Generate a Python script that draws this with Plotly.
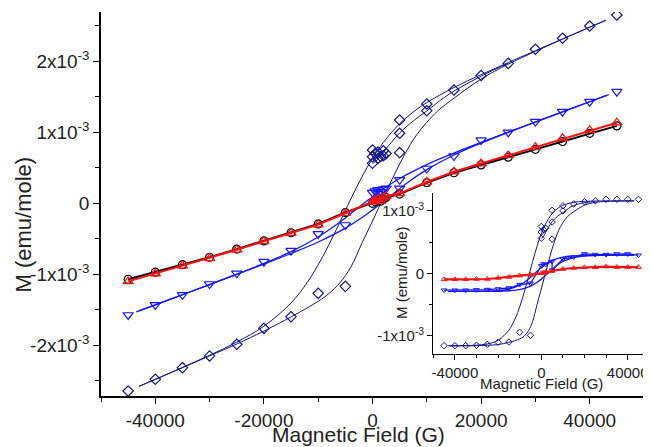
import plotly.graph_objects as go

SC = 1e-3  # values below are in units of 1e-3 emu/mole

# ---------------- main panel: measured points ----------------
blk_h = [-45000, -40000, -35000, -30000, -25000, -20000, -15000, -10000, -5000, 0, 500, 1000, 1500, 2000, 2500, 5000, 10000, 15000, 20000, 25000, 30000, 35000, 40000, 45000]
blk_m = [-1.07, -0.97, -0.865, -0.76, -0.645, -0.53, -0.415, -0.29, -0.13, 0.0, 0.02, 0.04, 0.03, 0.06, 0.08, 0.13, 0.29, 0.43, 0.54, 0.65, 0.76, 0.87, 0.985, 1.09]

red_h = [-45000, -40000, -35000, -30000, -25000, -20000, -15000, -10000, -5000, 0, 500, 1000, 1500, 2000, 2500, 5000, 10000, 15000, 20000, 25000, 30000, 35000, 40000, 45000]
red_m = [-1.10, -0.99, -0.88, -0.775, -0.655, -0.535, -0.42, -0.30, -0.14, 0.02, 0.04, 0.06, 0.03, 0.08, 0.10, 0.14, 0.30, 0.445, 0.56, 0.675, 0.79, 0.915, 1.03, 1.135]

blu_h = [-45000, -40000, -35000, -30000, -25000, -20000, -15000, -10000, -5000, 0, 500, 1000, 1000, 1500, 2000, 2500, 5000, 5000, 10000, 15000, 20000, 25000, 30000, 35000, 40000, 45000]
blu_m = [-1.573, -1.432, -1.29, -1.137, -0.986, -0.822, -0.667, -0.432, -0.306, 0.15, 0.17, 0.19, 0.14, 0.16, 0.20, 0.21, 0.33, 0.21, 0.49, 0.666, 0.89, 1.00, 1.15, 1.29, 1.431, 1.572]

nav_h = [-45000, -40000, -35000, -30000, -25000, -20000, -15000, -10000, -5000, 0, 0, 0, 500, 1000, 1000, 1500, 2000, 2000, 2500, 5000, 5000, 5000, 10000, 10000, 15000, 20000, 25000, 30000, 35000, 40000, 45000]
nav_m = [-2.644, -2.479, -2.315, -2.15, -1.986, -1.761, -1.597, -1.268, -1.17, 0.75, 0.656, 0.563, 0.70, 0.72, 0.63, 0.66, 0.74, 0.67, 0.70, 1.173, 0.986, 0.713, 1.398, 1.304, 1.595, 1.80, 1.97, 2.17, 2.324, 2.497, 2.652]

# ---------------- main panel: fitted curves ----------------
fit_h = [-43000, -40000, -35000, -30000, -25000, -20000, -15000, -12000, -10000, -8000, -6000, -4000, -2000, 0, 2000, 5000, 8000, 10000, 15000, 20000, 25000, 30000, 35000, 40000, 43000]
nav_dn = [-2.578, -2.479, -2.312, -2.14, -1.955, -1.731, -1.404, -1.113, -0.866, -0.579, -0.263, 0.06, 0.364, 0.632, 0.857, 1.121, 1.314, 1.418, 1.631, 1.812, 1.982, 2.149, 2.315, 2.48, 2.579]
fit_h2 = [-43000, -40000, -35000, -30000, -25000, -20000, -15000, -10000, -8000, -6000, -4000, -2000, 0, 2000, 4000, 6000, 8000, 10000, 12000, 15000, 20000, 25000, 30000, 35000, 40000, 43000]
nav_up = [-2.579, -2.48, -2.315, -2.149, -1.982, -1.80, -1.60, -1.38, -1.27, -1.12, -0.90, -0.57, -0.25, 0.08, 0.40, 0.70, 0.95, 1.14, 1.30, 1.48, 1.75, 1.96, 2.14, 2.312, 2.479, 2.578]
vir_h = [0, 1000, 2000, 3500, 5000, 7500, 10000, 12500, 15000, 20000, 25000]
nav_vir = [0.56, 0.62, 0.72, 0.86, 0.99, 1.16, 1.30, 1.45, 1.58, 1.79, 1.975]

bfit_h = [-43000, -40000, -35000, -30000, -25000, -20000, -15000, -10000, -7000, -5000, -3000, -1000, 0, 2000, 5000, 10000, 15000, 20000, 25000, 30000, 35000, 40000, 43500]
blu_dn = [-1.516, -1.43, -1.288, -1.144, -0.999, -0.847, -0.68, -0.474, -0.321, -0.206, -0.0855, 0.035, 0.093, 0.203, 0.349, 0.545, 0.707, 0.857, 1.002, 1.145, 1.288, 1.43, 1.53]
bfit_h2 = [-43500, -40000, -35000, -30000, -25000, -20000, -15000, -10000, -5000, -2000, 0, 1000, 3000, 5000, 7000, 10000, 15000, 20000, 25000, 30000, 35000, 40000, 43000]
blu_up = [-1.53, -1.43, -1.288, -1.145, -1.002, -0.857, -0.707, -0.545, -0.349, -0.203, -0.093, -0.035, 0.0855, 0.206, 0.321, 0.474, 0.68, 0.847, 0.999, 1.144, 1.288, 1.43, 1.516]

# ---------------- inset: background-subtracted data ----------------
in_h = [-45000, -40000, -35000, -30000, -25000, -20000, -15000, -10000, -5000, 0, 1000, 2000, 5000, 10000, 15000, 20000, 25000, 30000, 35000, 40000, 45000]
in_red = [-0.096, -0.096, -0.096, -0.091, -0.091, -0.075, -0.059, -0.037, -0.027, 0.0, 0.01, 0.02, 0.037, 0.069, 0.085, 0.096, 0.096, 0.107, 0.10, 0.10, 0.10]
in_blu_h = [-45000, -40000, -35000, -30000, -25000, -20000, -15000, -10000, -5000, 0, 1000, 2000, 5000, 5000, 10000, 15000, 20000, 25000, 30000, 35000, 40000, 45000]
in_blu = [-0.27, -0.27, -0.27, -0.265, -0.26, -0.25, -0.235, -0.18, -0.16, 0.12, 0.15, 0.14, 0.19, 0.05, 0.23, 0.26, 0.31, 0.30, 0.30, 0.31, 0.31, 0.29]
in_nav_h = [-45000, -40000, -35000, -30000, -25000, -20000, -15000, -10000, -5000, 0, 0, 0, 1000, 2000, 5000, 5000, 5000, 10000, 10000, 15000, 20000, 25000, 30000, 35000, 40000, 45000]
in_nav = [-1.158, -1.158, -1.158, -1.152, -1.136, -1.104, -1.10, -0.944, -0.992, 0.75, 0.66, 0.56, 0.70, 0.72, 1.008, 0.821, 0.548, 1.08, 1.00, 1.11, 1.146, 1.16, 1.184, 1.184, 1.184, 1.184]

ifit_h = [-43000, -35000, -30000, -25000, -20000, -15000, -12000, -10000, -8000, -6000, -4000, -2000, 0, 2000, 5000, 8000, 10000, 15000, 20000, 25000, 30000, 43000]
in_nav_dn = [-1.159, -1.157, -1.150, -1.130, -1.071, -0.909, -0.717, -0.536, -0.315, -0.065, 0.192, 0.43, 0.632, 0.791, 0.956, 1.05, 1.088, 1.136, 1.152, 1.157, 1.159, 1.16]
ifit_h2 = [-43000, -30000, -25000, -20000, -15000, -10000, -8000, -6000, -4000, -2000, 0, 2000, 4000, 6000, 8000, 10000, 12000, 15000, 20000, 25000, 30000, 43000]
in_nav_up = [-1.16, -1.158, -1.152, -1.14, -1.105, -1.05, -1.006, -0.922, -0.768, -0.504, -0.25, 0.014, 0.268, 0.502, 0.686, 0.81, 0.904, 0.985, 1.09, 1.135, 1.15, 1.159]
in_nav_vir = [0.56, 0.587, 0.654, 0.745, 0.825, 0.913, 0.97, 1.037, 1.085, 1.13, 1.15]

ibfit_h = [-43000, -30000, -25000, -20000, -15000, -10000, -7000, -5000, -3000, -1000, 0, 2000, 5000, 10000, 15000, 20000, 30000, 43000]
in_blu_dn = [-0.29, -0.289, -0.286, -0.277, -0.252, -0.189, -0.121, -0.063, 0.0, 0.063, 0.093, 0.146, 0.206, 0.26, 0.279, 0.287, 0.29, 0.29]

# axis ticks and titles
x_main_ticks = [-40000, -20000, 0, 20000, 40000]
x_main_text = ["-40000", "-20000", "0", "20000", "40000"]
y_main_ticks = [-2e-3, -1e-3, 0, 1e-3, 2e-3]
y_main_text = ["-2x10<sup>-3</sup>", "-1x10<sup>-3</sup>", "0", "1x10<sup>-3</sup>", "2x10<sup>-3</sup>"]
x_in_ticks = [-40000, 0, 40000]
x_in_text = ["-40000", "0", "40000"]
y_in_ticks = [-1e-3, 0, 1e-3]
y_in_text = ["-1x10<sup>-3</sup>", "0", "1x10<sup>-3</sup>"]
x_title = "Magnetic Field (G)"
y_title = "M (emu/mole)"

NAVY = "#14148c"
BLUE = "#1515ff"
RED = "#ff1010"
BLACK = "#000000"

def sc(v):
    return [a * SC for a in v]

def srt(h, m):
    p = sorted(zip(h, m), key=lambda t: t[0])
    return [a for a, _ in p], [b for _, b in p]

fig = go.Figure()

# ---- main ----
for h, m in [(fit_h, nav_dn), (fit_h2, nav_up), (vir_h, nav_vir)]:
    fig.add_trace(go.Scatter(x=h, y=sc(m), mode="lines", line=dict(color=NAVY, width=1, shape="spline"), xaxis="x", yaxis="y", showlegend=False))
fig.add_trace(go.Scatter(x=nav_h, y=sc(nav_m), mode="markers", marker=dict(symbol="diamond-open", size=8, color=NAVY, line=dict(width=1.2)), xaxis="x", yaxis="y", showlegend=False))
for h, m in [(bfit_h, blu_dn), (bfit_h2, blu_up)]:
    fig.add_trace(go.Scatter(x=h, y=sc(m), mode="lines", line=dict(color=BLUE, width=1.3, shape="spline"), xaxis="x", yaxis="y", showlegend=False))
fig.add_trace(go.Scatter(x=blu_h, y=sc(blu_m), mode="markers", marker=dict(symbol="triangle-down-open", size=9, color=BLUE, line=dict(width=1.2)), xaxis="x", yaxis="y", showlegend=False))
bh, bm = srt(blk_h, blk_m)
fig.add_trace(go.Scatter(x=bh, y=sc(bm), mode="lines+markers", line=dict(color=BLACK, width=2), marker=dict(symbol="circle-open", size=8, color=BLACK, line=dict(width=1.2)), xaxis="x", yaxis="y", showlegend=False))
rh, rm = srt(red_h, red_m)
fig.add_trace(go.Scatter(x=rh, y=sc(rm), mode="lines+markers", line=dict(color=RED, width=2), marker=dict(symbol="triangle-up-open", size=9, color=RED, line=dict(width=1.2)), xaxis="x", yaxis="y", showlegend=False))

# ---- inset ----
for h, m in [(ifit_h, in_nav_dn), (ifit_h2, in_nav_up), (vir_h, in_nav_vir)]:
    fig.add_trace(go.Scatter(x=h, y=sc(m), mode="lines", line=dict(color=NAVY, width=1, shape="spline"), xaxis="x2", yaxis="y2", showlegend=False))
fig.add_trace(go.Scatter(x=in_nav_h, y=sc(in_nav), mode="markers", marker=dict(symbol="diamond-open", size=5, color=NAVY, line=dict(width=1)), xaxis="x2", yaxis="y2", showlegend=False))
fig.add_trace(go.Scatter(x=ibfit_h, y=sc(in_blu_dn), mode="lines", line=dict(color=BLUE, width=1.3, shape="spline"), xaxis="x2", yaxis="y2", showlegend=False))
fig.add_trace(go.Scatter(x=[-v for v in ibfit_h], y=[-v * SC for v in in_blu_dn], mode="lines", line=dict(color=BLUE, width=1.3, shape="spline"), xaxis="x2", yaxis="y2", showlegend=False))
ih, ib = srt(in_blu_h, in_blu)
fig.add_trace(go.Scatter(x=ih, y=sc(ib), mode="lines+markers", line=dict(color=BLUE, width=1.3), marker=dict(symbol="triangle-down-open", size=5, color=BLUE, line=dict(width=1)), xaxis="x2", yaxis="y2", showlegend=False))
fig.add_trace(go.Scatter(x=in_h, y=sc(in_red), mode="lines+markers", line=dict(color=RED, width=2.2), marker=dict(symbol="triangle-up-open", size=5, color=RED, line=dict(width=1)), xaxis="x2", yaxis="y2", showlegend=False))

FONT = "Liberation Sans, Arial, sans-serif"
TXT = "#222222"
# the page body adds an 8 px offset; figure is sized so the plot lands where the reference has it
OFF = 8
FW, FH = 643, 439
ML, MR, MT, MB = 93, 1, 4, 51
PW = FW - ML - MR          # 549
PH = FH - MT - MB          # 384
X0 = OFF + ML              # page x of plot-area left (101)
Y1 = OFF + FH - MB         # page y of plot-area bottom (396)

def px(x):
    return (x - X0) / PW

def py(y):
    return (Y1 - y) / PH

axis_common = dict(showline=True, linecolor="black", showgrid=False, zeroline=False, ticks="outside", tickcolor="black", tickmode="array")

fig.update_layout(
    width=FW, height=FH,
    margin=dict(l=ML, r=MR, t=MT, b=MB, autoexpand=False),
    paper_bgcolor="white", plot_bgcolor="white",
    font=dict(family=FONT, color=TXT, size=19),
    xaxis=dict(axis_common, domain=[0, px(644)], range=[-50000, 50000], tickvals=x_main_ticks, ticktext=x_main_text,
               ticklen=6, tickwidth=1.3, linewidth=1.5, tickfont=dict(size=19),
               minor=dict(dtick=10000, tick0=0, ticks="outside", ticklen=4, tickwidth=1.3, tickcolor="black", showgrid=False)),
    yaxis=dict(axis_common, domain=[0, 1], range=[-2.714e-3, 2.694e-3], tickvals=y_main_ticks, ticktext=y_main_text,
               ticklen=6, tickwidth=1.3, linewidth=1.5, tickfont=dict(size=19),
               minor=dict(dtick=0.5e-3, tick0=0, ticks="outside", ticklen=4, tickwidth=1.3, tickcolor="black", showgrid=False)),
    xaxis2=dict(axis_common, domain=[px(433.3), px(649.3)], anchor="y2", range=[-50000, 50000],
                tickvals=x_in_ticks, ticktext=x_in_text, ticklen=5, tickwidth=1.2, linewidth=1.3, tickfont=dict(size=15),
                minor=dict(dtick=10000, tick0=0, ticks="outside", ticklen=3, tickwidth=1.2, tickcolor="black", showgrid=False)),
    yaxis2=dict(axis_common, domain=[py(354), py(192.7)], anchor="x2", range=[-1.291e-3, 1.29e-3],
                tickvals=y_in_ticks, ticktext=y_in_text, ticklen=5, tickwidth=1.2, linewidth=1.3, tickfont=dict(size=15),
                minor=dict(dtick=0.5e-3, tick0=0, ticks="outside", ticklen=3, tickwidth=1.2, tickcolor="black", showgrid=False)),
    annotations=[
        dict(text=x_title, x=px(358), y=py(447), xref="paper", yref="paper", showarrow=False, xanchor="center", yanchor="bottom", borderpad=0, font=dict(size=21)),
        dict(text=y_title, x=px(22.5), y=py(225), xref="paper", yref="paper", showarrow=False, xanchor="center", yanchor="middle", textangle=-90, font=dict(size=22)),
        dict(text=x_title, x=px(541), y=py(383), xref="paper", yref="paper", showarrow=False, xanchor="center", yanchor="middle", borderpad=0, font=dict(size=15)),
        dict(text=y_title, x=px(401), y=py(273), xref="paper", yref="paper", showarrow=False, xanchor="center", yanchor="middle", textangle=-90, font=dict(size=15)),
    ],
)

fig.write_html("out.html")
